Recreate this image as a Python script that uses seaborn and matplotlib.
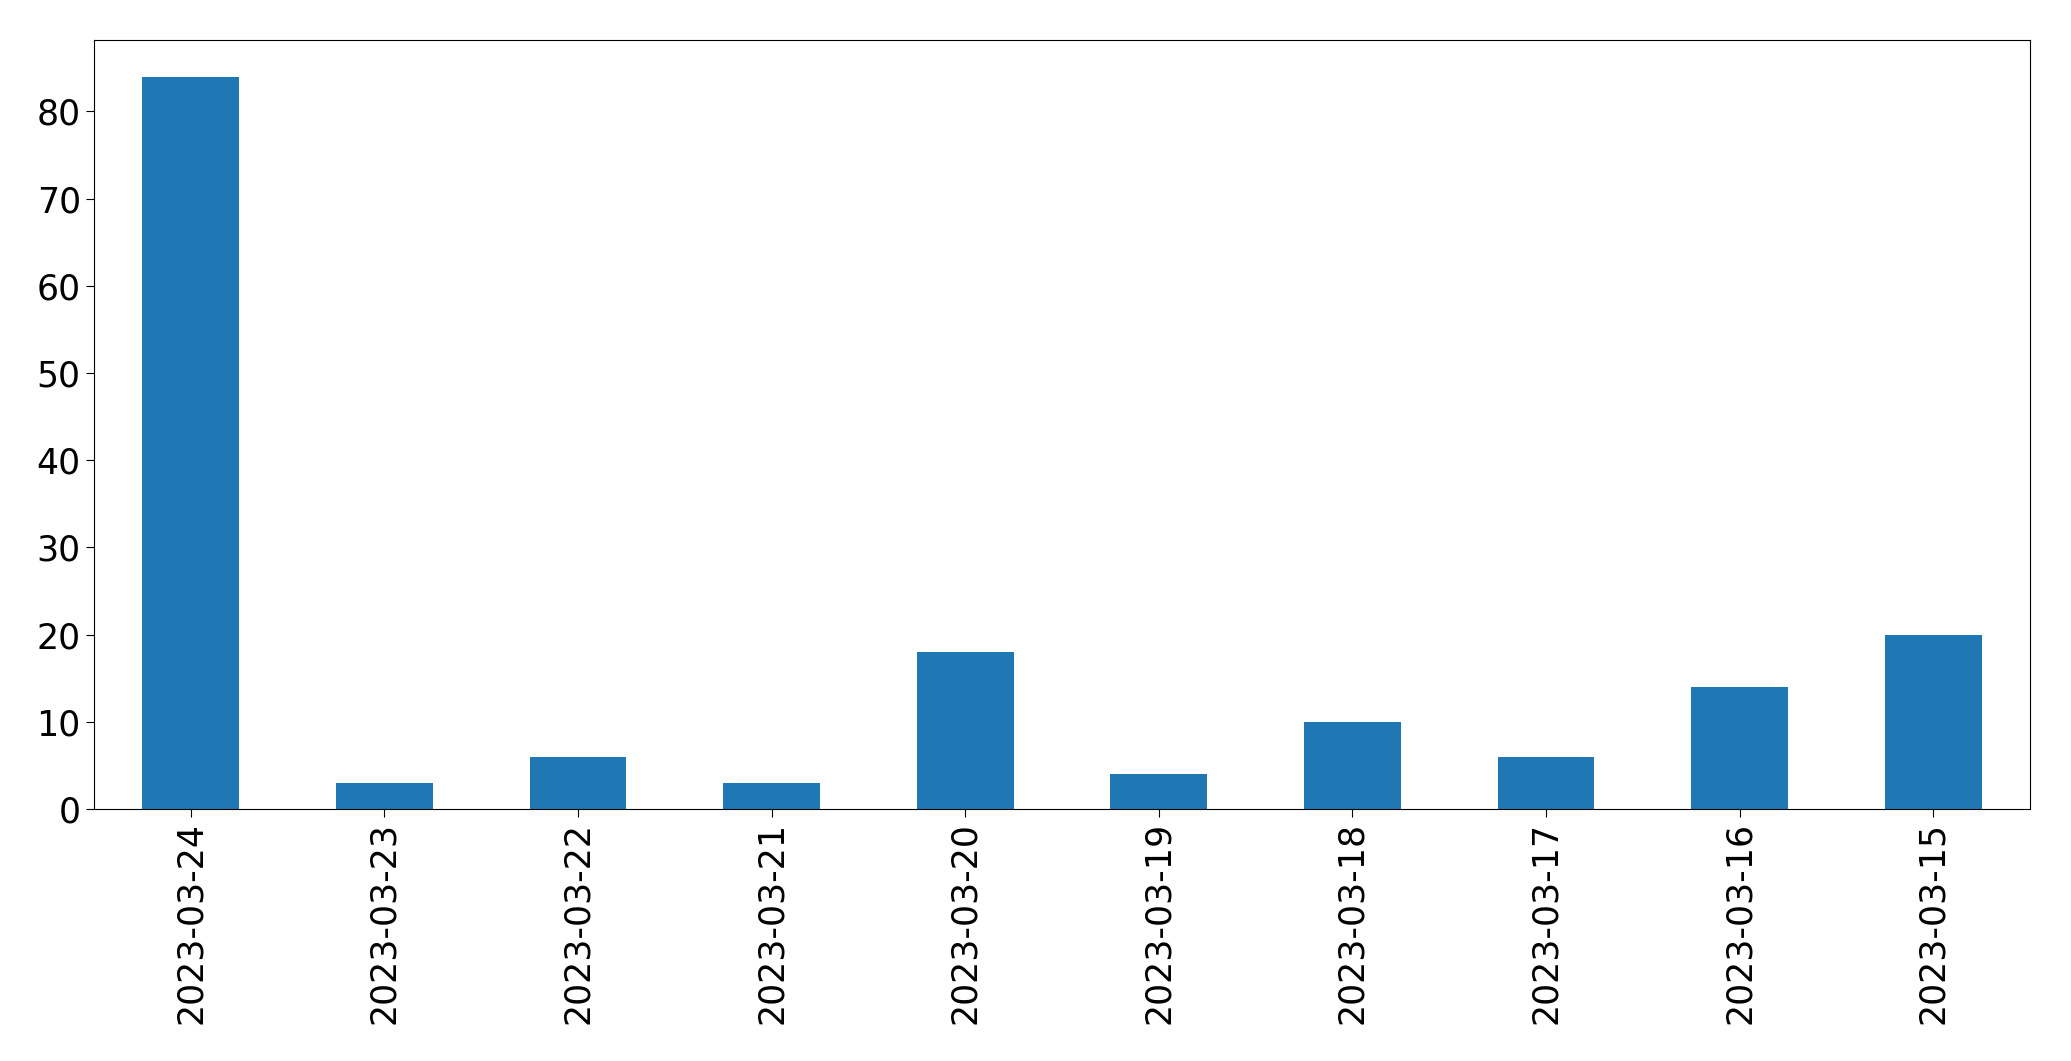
import pandas as pd
import matplotlib.pyplot as plt
import seaborn as sns

# daily counts, newest first
dates = ["2023-03-24", "2023-03-23", "2023-03-22", "2023-03-21", "2023-03-20",
         "2023-03-19", "2023-03-18", "2023-03-17", "2023-03-16", "2023-03-15"]
counts = [84, 3, 6, 3, 18, 4, 10, 6, 14, 20]

df = pd.DataFrame({"date": dates, "count": counts})

fig, ax = plt.subplots(figsize=(20.71, 10.61), dpi=100)
fig.subplots_adjust(left=94 / 2071, right=2030 / 2071, top=1 - 40 / 1061, bottom=1 - 809 / 1061)

sns.barplot(data=df, x="date", y="count", order=dates, color="#1f77b4",
            saturation=1, width=0.5, linewidth=0, ax=ax)

ax.set_xlim(-0.5, len(dates) - 0.5)
ax.set_xlabel("")
ax.set_ylabel("")
for s in ax.spines.values():
    s.set_color("black")
ax.tick_params(axis="both", labelsize=25, length=6)
ax.tick_params(axis="x", rotation=90)

fig.savefig("out.png", dpi=100)
